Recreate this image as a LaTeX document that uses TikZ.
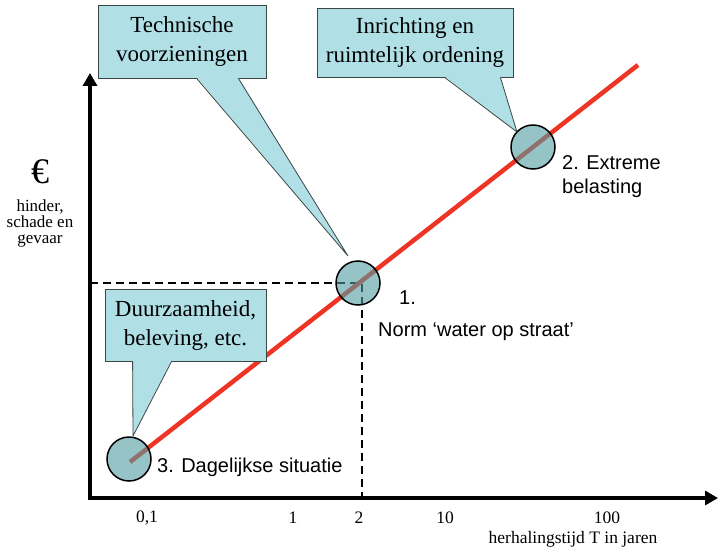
\documentclass[tikz,border=0pt]{standalone}
\usepackage{fontspec}
\setmainfont{Liberation Serif}
\setsansfont{Liberation Sans}
\usetikzlibrary{arrows.meta}
\definecolor{bub_fill}{RGB}{176,224,230}
\definecolor{bub_edge}{RGB}{60,70,70}
\definecolor{line_red}{RGB}{238,52,36}
\definecolor{spot_teal}{RGB}{80,155,160}

\begin{document}
\begin{tikzpicture}[
  x=1pt,y=-1pt,
  axisline/.style={line width=4pt,
    {Triangle[length=13pt,width=14pt]}-{Triangle[length=13pt,width=14pt]}},
  guide/.style={dash pattern=on 8pt off 5pt,line width=2.4pt},
  trend/.style={line_red,line width=4.5pt},
  spot/.style={circle,draw=black,line width=1.5pt,fill=spot_teal,
               fill opacity=0.6,minimum size=44pt,inner sep=0pt},
  bubble/.style={rectangle,draw=bub_edge,fill=bub_fill,line width=0.8pt,
                 align=center,inner sep=0pt,font=\fontsize{23}{29}\selectfont},
  spout/.style={draw=bub_edge,line width=0.8pt},
  lbl/.style={font=\sffamily\fontsize{20}{24}\selectfont,anchor=west,
              inner sep=0pt,align=left},
  num/.style={font=\fontsize{17.5}{20}\selectfont,inner sep=0pt}
]
\useasboundingbox (0,0) rectangle (719,548);
% axes
\coordinate (O) at (90,498);
\coordinate (ytop) at (90,73);
\coordinate (xend) at (718,498);
\draw[axisline] (ytop) |- (xend);
% norm guides
\coordinate (norm) at (362,283);
\draw[guide] (O |- norm) -- (norm) -- (norm |- O);
% trend line
\coordinate (lo) at (130,462);
\coordinate (hi) at (638,65);
\draw[trend] (lo) -- (hi);
\node[spot] (p3) at (129,459) {};
\node[spot] (p1) at (358,283) {};
\node[spot] (p2) at (533,147) {};
% point labels
\node[lbl] (l1) at (399,298) {1.};
\node[lbl] (l1b) at (378,332) {Norm ‘water op straat’};
\node[lbl] (l2) at (562,177) {2. Extreme\\belasting};
\node[lbl] (l3) at (157,467) {3. Dagelijkse situatie};
% y axis label
\node[font=\fontsize{36}{36}\selectfont] (eur) at (40,172) {€};
\node[font=\fontsize{17}{16}\selectfont,align=center] (ylab) at (40,223)
  {hinder,\\schade en\\gevaar};
% x axis values
\node[num] (t01) at (147,518) {0,1};
\node[num] (t1) at (293,518) {1};
\node[num] (t2) at (359,518) {2};
\node[num] (t10) at (445,518) {10};
\node[num] (t100) at (607,518) {100};
\node[num] (xlab) at (573,539) {herhalingstijd T in jaren};
% callouts
\node[bubble,minimum width=168pt,minimum height=73pt] (tv) at (182,41.5)
  {Technische\\voorzieningen};
\coordinate (tip1) at (348,256);
\fill[bub_fill] ([xshift=99pt,yshift=1pt]tv.south west) -- (tip1)
  -- ([xshift=-28pt,yshift=1pt]tv.south east) -- cycle;
\draw[spout] ([xshift=99pt]tv.south west) -- (tip1) -- ([xshift=-28pt]tv.south east);

\node[bubble,minimum width=196pt,minimum height=69pt] (ro) at (415,42.5)
  {Inrichting en\\ruimtelijk ordening};
\coordinate (tip2) at (517,132);
\fill[bub_fill] ([xshift=128pt,yshift=1pt]ro.south west) -- (tip2)
  -- ([xshift=-13pt,yshift=1pt]ro.south east) -- cycle;
\draw[spout] ([xshift=128pt]ro.south west) -- (tip2) -- ([xshift=-13pt]ro.south east);

\node[bubble,minimum width=161pt,minimum height=72pt] (dv) at (185.5,325)
  {Duurzaamheid,\\beleving, etc.};
\coordinate (tip3) at (133,436);
\fill[bub_fill] ([xshift=28pt,yshift=1pt]dv.south west) -- (tip3)
  -- ([xshift=67pt,yshift=1pt]dv.south west) -- cycle;
\draw[spout] ([xshift=28pt]dv.south west) -- (tip3) -- ([xshift=67pt]dv.south west);
\end{tikzpicture}
\end{document}
